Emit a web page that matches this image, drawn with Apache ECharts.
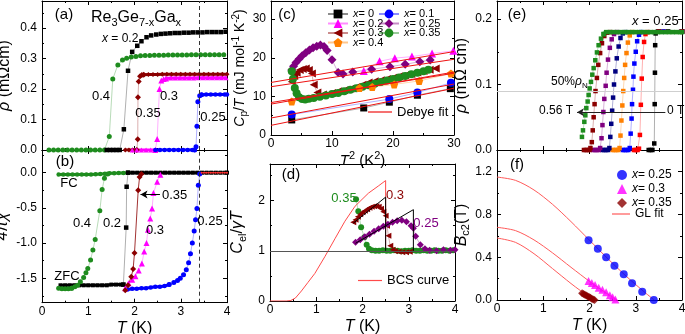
<!DOCTYPE html>
<html>
<head>
<meta charset="utf-8">
<script src="https://cdn.jsdelivr.net/npm/echarts@6/dist/echarts.min.js"></script>
<style>
  html, body { margin: 0; padding: 0; background: #fff; }
  #chart { width: 685px; height: 334px; }
</style>
</head>
<body>
<div id="chart"></div>
<script>
// ---- (a) resistivity, Re3Ge7-xGax ----
const aX02 = [[1.40,0],[1.47,0],[1.54,0],[1.61,0],[1.68,0],[1.77,0.068],[1.86,0.260],[1.95,0.322],[2.06,0.342],[2.15,0.357],[2.26,0.370],[2.36,0.376],[2.47,0.379],[2.57,0.381],[2.67,0.382],[2.77,0.383],[2.87,0.384],[2.97,0.384],[3.07,0.385],[3.17,0.385],[3.27,0.386],[3.37,0.386],[3.47,0.386],[3.57,0.387],[3.67,0.387],[3.77,0.387],[3.87,0.387],[3.97,0.388]];
const aX04 = [[0.15,0],[0.25,0],[0.35,0],[0.45,0],[0.55,0],[0.65,0],[0.75,0],[0.85,0],[0.95,0],[1.05,0],[1.15,0],[1.25,0],[1.35,0],[1.455,0.044],[1.53,0.233],[1.64,0.279],[1.74,0.295],[1.83,0.301],[1.93,0.305],[2.03,0.307],[2.13,0.309],[2.23,0.310],[2.33,0.310],[2.43,0.311],[2.53,0.311],[2.63,0.311],[2.73,0.312],[2.83,0.312],[2.93,0.312],[3.03,0.312],[3.13,0.312],[3.23,0.313],[3.33,0.313],[3.43,0.313],[3.53,0.313],[3.63,0.313],[3.73,0.313],[3.83,0.313],[3.93,0.313]];
const aX035Zero = [[1.80,0],[1.88,0],[1.96,0],[2.05,0]];
const aX035 = [[2.05,0],[2.07,0.035],[2.075,0.173],[2.09,0.225],[2.12,0.242],[2.16,0.246],[2.20,0.247]];
const aX035Top = [[2.20,0.247],[2.30,0.248],[2.40,0.248],[2.50,0.248],[2.60,0.249],[2.70,0.249],[2.80,0.249],[2.90,0.249],[3.00,0.249],[3.10,0.249],[3.20,0.249],[3.30,0.249],[3.40,0.249],[3.50,0.249],[3.60,0.249],[3.70,0.249],[3.80,0.249],[3.90,0.249],[4.00,0.249]];
const aX03Zero = [[1.95,0],[2.05,0],[2.15,0],[2.25,0],[2.35,0],[2.45,0]];
const aX03 = [[2.45,0],[2.49,0.036],[2.54,0.200],[2.58,0.228],[2.63,0.233],[2.68,0.235]];
const aX03Top = [[2.68,0.235],[2.78,0.236],[2.88,0.236],[2.98,0.236],[3.08,0.236],[3.18,0.236],[3.28,0.236],[3.38,0.237],[3.48,0.237],[3.58,0.237],[3.68,0.237],[3.78,0.237],[3.88,0.237],[3.98,0.237]];
const aX025Zero = [[2.45,0],[2.55,0],[2.65,0],[2.75,0],[2.85,0],[2.95,0],[3.05,0],[3.15,0],[3.25,0],[3.30,0]];
const aX025 = [[3.30,0],[3.33,0.011],[3.35,0.078],[3.37,0.158],[3.41,0.178],[3.45,0.181]];
const aX025Top = [[3.45,0.181],[3.55,0.182],[3.65,0.182],[3.75,0.182],[3.85,0.182],[3.95,0.182],[4.00,0.182]];

// ---- (b) susceptibility 4πχ ----
const bX04Low = [[0.36,-1.64],[0.43,-1.65],[0.50,-1.65],[0.57,-1.65],[0.64,-1.64]];
const bX04 = [[0.64,-1.64],[0.71,-1.62],[0.77,-1.60],[0.83,-1.55],[0.90,-1.49],[0.95,-1.42],[0.99,-1.36],[1.05,-1.24],[1.10,-1.10],[1.15,-0.95],[1.25,-0.54],[1.30,-0.24],[1.35,-0.08],[1.42,-0.02]];
const bX04Fc = [[0.36,-0.025],[0.46,-0.025],[0.56,-0.025],[0.66,-0.025],[0.76,-0.025],[0.86,-0.025],[0.96,-0.025],[1.06,-0.025],[1.16,-0.022],[1.26,-0.02],[1.36,-0.015],[1.46,-0.01],[1.56,-0.008],[1.66,-0.005],[1.76,-0.003],[1.86,0]];
const bX02Low = [[0.40,-1.60],[0.50,-1.60],[0.60,-1.60],[0.70,-1.60],[0.80,-1.60],[0.90,-1.60],[1.00,-1.60],[1.10,-1.60],[1.20,-1.60],[1.30,-1.60],[1.40,-1.60],[1.50,-1.59],[1.60,-1.59],[1.70,-1.59],[1.76,-1.59]];
const bX02 = [[1.76,-1.59],[1.82,-0.78],[1.83,-0.20],[1.86,0]];
const bX02Fc = [[1.86,0],[1.96,0],[2.06,0],[2.16,0],[2.26,0],[2.36,0],[2.46,0],[2.56,0],[2.66,0],[2.76,0],[2.86,0],[2.96,0],[3.06,0],[3.16,0],[3.26,0],[3.36,0],[3.46,0],[3.56,0],[3.66,0],[3.76,0],[3.86,0],[3.96,0],[4.00,0]];
const bX035 = [[1.80,-1.67],[1.86,-1.60],[1.93,-1.48],[1.97,-1.37],[2.00,-1.14],[2.08,-0.25],[2.11,-0.06],[2.15,-0.02]];
const bX03 = [[1.80,-1.64],[1.87,-1.57],[1.95,-1.52],[2.02,-1.47],[2.09,-1.39],[2.16,-1.29],[2.21,-1.12],[2.26,-1.00],[2.29,-0.81],[2.34,-0.65],[2.38,-0.51],[2.41,-0.29],[2.49,-0.13],[2.56,-0.03]];
const bX03Fc = [[3.45,0],[3.50,0],[3.55,0],[3.60,0],[3.65,0],[3.70,0],[3.75,0],[3.80,0],[3.85,0],[3.90,0],[3.95,0],[4.00,0]];
const bX025Low = [[1.85,-1.66],[1.95,-1.65],[2.05,-1.65],[2.15,-1.64],[2.25,-1.64],[2.35,-1.63],[2.45,-1.62],[2.55,-1.62],[2.65,-1.61],[2.75,-1.59]];
const bX025 = [[2.75,-1.59],[2.85,-1.56],[2.93,-1.53],[2.99,-1.50],[3.06,-1.45],[3.12,-1.38],[3.17,-1.28],[3.21,-1.15],[3.25,-1.00],[3.29,-0.83],[3.32,-0.67],[3.35,-0.51],[3.38,-0.18],[3.41,-0.02]];
const tcLine = 3.4;
const arrowChi = -0.31;

// ---- (c) Cp/T vs T^2 ----
const cX0 = [[3.4,3.9],[15.2,7.0],[19.4,8.5],[24.0,10.3],[29.4,12.0]];
const cX01 = [[3.4,5.3],[19.4,9.3],[24.0,11.0],[29.5,13.5]];
const cX02 = [[15.2,16.6],[17.8,19.1],[20.3,19.9],[23.1,20.3],[26.4,21.1],[29.9,21.8]];
const cX025 = [[3.4,16.8],[3.7,17.8],[4.1,18.8],[4.6,19.7],[5.1,20.5],[5.7,21.3],[6.3,22.0],[6.9,22.6],[7.5,23.0],[8.1,23.3],[8.7,22.9],[9.2,21.9],[10.0,19.5],[11.0,16.2],[11.8,15.8],[13.4,16.3],[16.5,17.0],[19.5,17.7],[22.0,18.3],[24.4,19.0],[26.1,19.4]];
const cX03 = [[3.4,13.8],[3.8,15.3],[4.2,16.1],[4.7,16.8],[5.2,17.1],[5.7,17.2],[6.2,16.8],[6.7,15.9],[7.0,13.0],[7.6,11.0],[8.5,10.5],[10,10.9],[11,11.3],[12,11.6],[13,12.0],[14,12.4],[15,13.0],[16,13.6],[17,13.9],[18,14.2],[19,14.5],[20,14.8],[21,15.2],[22,15.5],[23,15.8],[24,16.2],[25,16.6],[26,16.9],[27,17.2]];
const cX035 = [[3.4,16.5],[3.6,14.5],[3.9,12.2],[4.2,10.8],[4.6,9.8],[5.1,9.3],[5.6,9.2],[6.2,9.4],[7.0,9.6],[8.0,9.9],[9.0,10.2],[10.0,10.6],[11.0,10.9],[12.0,11.3],[13.0,11.7],[14.0,12.1],[15.0,12.5],[16.0,12.9],[17.0,13.3],[18.0,13.7],[19.0,14.1],[20.0,14.5],[21.0,14.9],[22.0,15.3],[23.0,15.7],[24.0,16.1],[25.0,16.5],[25.8,16.9]];
const cX04 = [[3.4,8.7],[14.5,12.2],[16.6,12.4],[20.2,13.1],[24.3,14.0],[29.5,15.9]];
const debyeFits = [
  [[0,2.5],[30,12.1]],
  [[0,4.4],[30,13.2]],
  [[0,8.0],[30,16.3]],
  [[0,8.4],[30,16.0]],
  [[0,12.5],[30,19.6]],
  [[0,13.6],[30,21.6]]
];

// ---- (d) Cel/γT vs T ----
const dX035 = [[1.86,2.03],[1.91,1.79],[1.97,1.47],[2.04,1.27],[2.09,1.12],[2.14,1.04],[2.20,1.01],[2.28,1.00],[2.36,1.00],[2.44,1.01],[2.52,1.00],[2.60,1.00],[2.68,1.01],[2.76,1.00],[2.84,0.99],[2.92,1.00],[3.00,1.00],[3.08,1.01],[3.16,1.00],[3.24,1.00],[3.32,1.01],[3.40,1.00],[3.48,1.00],[3.56,1.01],[3.64,1.00],[3.72,1.00],[3.80,1.01],[3.88,1.00],[3.96,1.01]];
const dX03 = [[1.80,1.57],[1.85,1.62],[1.90,1.68],[1.95,1.73],[2.00,1.77],[2.05,1.80],[2.10,1.83],[2.15,1.86],[2.20,1.88],[2.25,1.89],[2.30,1.89],[2.35,1.88],[2.40,1.84],[2.45,1.78],[2.50,1.70],[2.53,1.50],[2.56,1.30],[2.60,1.10],[2.65,1.02],[2.70,0.99],[2.78,0.98],[2.86,0.97],[2.94,0.97],[3.02,0.98]];
const dX025 = [[1.85,1.17],[1.95,1.22],[2.05,1.28],[2.15,1.33],[2.25,1.39],[2.35,1.44],[2.45,1.49],[2.55,1.53],[2.65,1.57],[2.75,1.60],[2.85,1.61],[2.95,1.58],[3.05,1.50],[3.10,1.45],[3.15,1.29],[3.25,1.12],[3.35,1.04],[3.45,1.01],[3.60,1.00],[3.75,1.02],[3.90,1.01],[4.00,1.02]];
const bcsCurve = [[0,0],[0.35,0],[0.45,0.01],[0.55,0.06],[0.68,0.20],[0.82,0.37],[0.97,0.55],[1.19,0.89],[1.41,1.25],[1.62,1.59],[1.84,1.89],[2.13,2.15],[2.34,2.29],[2.50,2.40],[2.50,1.00]];
const entropyX03 = [[1.80,1.55],[2.50,2.07],[2.50,1.00]];
const entropyX025 = [[1.85,1.15],[3.10,1.82],[3.10,1.00]];

// ---- (e) rho(T) of x = 0.25 in fields 0 ... 0.56 T ----
const eF0 = [[3.28,0],[3.32,0],[3.36,0],[3.40,0.010],[3.41,0.070],[3.415,0.118],[3.42,0.160],[3.43,0.178],[3.48,0.181],[3.70,0.181],[4.00,0.181]];
const eF1 = [[2.96,0],[3.00,0],[3.04,0],[3.07,0.002],[3.09,0.023],[3.11,0.069],[3.13,0.109],[3.15,0.142],[3.18,0.165],[3.21,0.177],[3.26,0.180],[3.60,0.181],[4.00,0.181]];
const eF2 = [[2.72,0],[2.76,0],[2.80,0],[2.84,0],[2.87,0.003],[2.89,0.025],[2.91,0.048],[2.92,0.070],[2.94,0.092],[2.95,0.112],[2.97,0.132],[3.00,0.150],[3.03,0.166],[3.07,0.176],[3.12,0.180],[3.60,0.181],[4.00,0.181]];
const eF3 = [[2.50,0],[2.54,0],[2.58,0],[2.62,0],[2.65,0.003],[2.67,0.022],[2.69,0.045],[2.71,0.068],[2.73,0.090],[2.75,0.110],[2.77,0.130],[2.80,0.148],[2.83,0.164],[2.87,0.175],[2.92,0.180],[3.50,0.181],[4.00,0.181]];
const eF4 = [[2.28,0],[2.32,0],[2.36,0],[2.40,0],[2.43,0.003],[2.45,0.020],[2.47,0.040],[2.49,0.060],[2.51,0.080],[2.53,0.100],[2.56,0.120],[2.59,0.140],[2.63,0.158],[2.67,0.171],[2.72,0.178],[2.78,0.180],[3.50,0.181],[4.00,0.181]];
const eF5 = [[2.08,0],[2.12,0],[2.16,0],[2.20,0],[2.23,0.003],[2.26,0.018],[2.28,0.038],[2.30,0.058],[2.32,0.078],[2.35,0.098],[2.37,0.118],[2.40,0.138],[2.44,0.156],[2.48,0.169],[2.53,0.177],[2.59,0.180],[3.50,0.181],[4.00,0.181]];
const eF6 = [[1.88,0],[1.92,0],[1.96,0],[2.00,0],[2.02,0.003],[2.05,0.012],[2.07,0.030],[2.09,0.050],[2.11,0.070],[2.13,0.090],[2.16,0.110],[2.19,0.130],[2.23,0.148],[2.27,0.163],[2.32,0.174],[2.38,0.179],[2.45,0.180],[3.50,0.181],[4.00,0.181]];
const eF7 = [[1.837,0.020],[1.859,0.030],[1.888,0.043],[1.910,0.053],[1.931,0.064],[1.960,0.074],[1.981,0.084],[2.003,0.094],[2.032,0.104],[2.061,0.115],[2.090,0.125],[2.125,0.137],[2.161,0.149],[2.197,0.160],[2.248,0.170],[2.306,0.177]];
const eF7Top = [[2.306,0.177],[2.36,0.180],[2.44,0.180],[2.52,0.180],[2.60,0.180],[2.68,0.180],[2.76,0.180],[2.84,0.180],[2.92,0.180],[3.00,0.180],[3.08,0.180],[3.16,0.180],[3.24,0.180],[3.32,0.180],[3.40,0.180],[3.48,0.180],[3.56,0.180],[3.64,0.180],[3.72,0.180],[3.80,0.180],[3.88,0.180],[3.96,0.180],[4.00,0.180]];
const halfRho = 0.09;
const arrowRho = 0.0576;
const arrowFrom = 3.64, arrowTo = 1.73;

// ---- (f) Bc2(T) ----
const fX025 = [[1.98,0.56],[2.18,0.48],[2.36,0.40],[2.54,0.32],[2.74,0.24],[2.92,0.156],[3.14,0.078],[3.39,0.0]];
const fX03 = [[1.98,0.178],[2.05,0.158],[2.12,0.140],[2.20,0.115],[2.28,0.095],[2.36,0.072],[2.44,0.045],[2.50,0.025],[2.56,0.005]];
const fX035 = [[1.84,0.062],[1.87,0.055],[1.90,0.048],[1.93,0.042],[1.96,0.035],[1.99,0.028],[2.02,0.020],[2.05,0.012],[2.08,0.005],[2.11,0.0]];
const glX025 = [[0,1.15],[0.4,1.119],[0.8,1.029],[1.2,0.895],[1.6,0.733],[2.0,0.559],[2.4,0.385],[2.8,0.220],[3.2,0.070],[3.4,0]];
const glX03 = [[0,0.68],[0.4,0.649],[0.8,0.562],[1.2,0.441],[1.6,0.306],[2.0,0.174],[2.2,0.113],[2.4,0.054],[2.6,0]];
const glX035 = [[0,0.58],[0.4,0.539],[0.8,0.433],[1.2,0.294],[1.6,0.154],[1.8,0.089],[2.0,0.028],[2.1,0]];

const FONT = '"Liberation Sans", Arial, Helvetica, sans-serif';
const INK = '#000';
const COL = {
  black: '#000000', green: '#1e8c1e', maroon: '#8b0000', magenta: '#ff00ff',
  blue: '#0000ff', purple: '#800080', orange: '#ff8000', navy: '#000080', red: '#ff0000'
};
const PENTAGON = 'path://M0,-10L9.51,-3.09L5.88,8.09L-5.88,8.09L-9.51,-3.09Z';

function richSet(fs, color) {
  const c = color || INK;
  const base = { fontFamily: FONT, color: c, fill: c };
  return {
    n: Object.assign({ fontSize: fs, lineHeight: fs + 4 }, base),
    i: Object.assign({ fontSize: fs, lineHeight: fs + 4, fontStyle: 'italic' }, base),
    sub: Object.assign({ fontSize: Math.round(fs * 0.7), lineHeight: Math.max(4, fs * 0.35), verticalAlign: 'bottom' }, base),
    sup: Object.assign({ fontSize: Math.round(fs * 0.7), lineHeight: fs * 0.8, verticalAlign: 'top' }, base)
  };
}

const grids = [
  { left: 42, top: 1, width: 185, height: 149 },
  { left: 42, top: 150, width: 185, height: 152.7 },
  { left: 271, top: 1, width: 183, height: 134 },
  { left: 270, top: 164, width: 185, height: 137 },
  { left: 497, top: 1, width: 185, height: 149 },
  { left: 497, top: 150, width: 185, height: 150 }
].map(g => Object.assign({ outerBoundsMode: 'none', containLabel: false }, g));

function axisPair(dim, g, o) {
  const pos = dim === 'x' ? ['bottom', 'top'] : ['left', 'right'];
  const common = {
    type: 'value', gridIndex: g, min: o.min, max: o.max,
    axisLine: { show: true, onZero: false, lineStyle: { color: INK, width: 1 } },
    axisTick: { show: true, inside: true, length: 4, lineStyle: { color: INK, width: 1 } },
    minorTick: { show: true, splitNumber: 2, length: 2, lineStyle: { color: INK, width: 1 } },
    splitLine: { show: false }, minorSplitLine: { show: false }
  };
  if (o.interval != null) common.interval = o.interval;
  if (o.splitNumber != null) common.splitNumber = o.splitNumber;
  const fs = o.nameSize || 16;
  const main = Object.assign({}, common, {
    position: pos[0],
    axisLabel: {
      show: !!o.labels, fontSize: 12, fontFamily: FONT, color: INK,
      margin: dim === 'x' ? 3 : 5, formatter: o.fmt || (v => String(v)),
      showMinLabel: o.hideMin ? false : null, showMaxLabel: o.hideMax ? false : null
    },
    name: o.name || '', nameLocation: 'middle', nameGap: o.gap || 10,
    nameTextStyle: { fontSize: fs, fontFamily: FONT, color: INK, lineHeight: fs + 4, rich: richSet(fs) }
  });
  const mirror = Object.assign({}, common, { position: pos[1], axisLabel: { show: false } });
  return [main, mirror];
}

const fix1 = v => v.toFixed(1);
const xAxes = [].concat(
  axisPair('x', 0, { min: 0, max: 4, interval: 1 }),
  axisPair('x', 1, { min: 0, max: 4, interval: 1, labels: true, name: '{i|T} (K)', gap: 10 }),
  axisPair('x', 2, { min: 0, max: 30, interval: 10, labels: true, name: '{i|T}{sup|2} (K{sup|2})', gap: 10, nameSize: 15 }),
  axisPair('x', 3, { min: 0, max: 4, interval: 1, labels: true, name: '{i|T} (K)', gap: 10 }),
  axisPair('x', 4, { min: 0, max: 4, interval: 1 }),
  axisPair('x', 5, { min: 0, max: 4, interval: 1, labels: true, name: '{i|T} (K)', gap: 11 })
);
const yAxes = [].concat(
  axisPair('y', 0, { min: 0, max: 0.489, interval: 0.1, labels: true, fmt: fix1, hideMax: true, name: '{i|ρ} (mΩcm)', gap: 27 }),
  axisPair('y', 1, { min: -1.847, max: 0.322, splitNumber: 5, labels: true, fmt: fix1, hideMin: true, hideMax: true, name: '{i|4πχ}', gap: 27 }),
  axisPair('y', 2, { min: 0, max: 34.7, interval: 10, labels: true, hideMax: true, name: '{i|C}{sub|p}/{i|T} (mJ mol{sup|-1} K{sup|-2})', gap: 17, nameSize: 14 }),
  axisPair('y', 3, { min: 0, max: 2.73, interval: 1, labels: true, hideMax: true, name: '{i|C}{sub|el}/{i|γT}', gap: 22 }),
  axisPair('y', 4, { min: 0, max: 0.2275, interval: 0.1, labels: true, fmt: fix1, hideMax: true, name: '{i|ρ} (mΩ cm)', gap: 23 }),
  axisPair('y', 5, { min: 0, max: 1.403, interval: 0.4, labels: true, fmt: fix1, hideMax: true, name: '{i|B}{sub|c2}(T)', gap: 22 })
);

function ser(g, name, data, o) {
  const s = {
    type: o.type || 'line', name: name, xAxisIndex: 2 * g, yAxisIndex: 2 * g, data: data,
    symbol: o.symbol || 'none', symbolSize: o.size || 5, symbolRotate: o.rotate || 0,
    showSymbol: !!o.symbol, showAllSymbol: true, smooth: o.smooth || false,
    itemStyle: { color: o.color },
    lineStyle: { color: o.color, width: o.width == null ? 0.7 : o.width, opacity: o.opacity == null ? 0.45 : o.opacity, type: o.dash || 'solid' },
    emphasis: { disabled: true }, silent: true, animation: false, z: o.z || 2
  };
  if (o.markLine) s.markLine = Object.assign({ silent: true, animation: false, label: { show: false }, symbol: 'none' }, o.markLine);
  return s;
}
const dense = (c, sym, size, extra) => Object.assign({ color: c, symbol: sym, size: size, width: 3, opacity: 1 }, extra || {});

const series = [
  // (a)
  ser(0, '', aX04, { color: COL.green, symbol: 'circle', size: 5 }),
  ser(0, '', aX02, { color: COL.black, symbol: 'rect', size: 4.5 }),
  ser(0, '', aX035Zero, dense(COL.maroon, 'diamond', 5)),
  ser(0, '', aX035, { color: COL.maroon, symbol: 'diamond', size: 6 }),
  ser(0, '', aX035Top, dense(COL.maroon, 'diamond', 5)),
  ser(0, '', aX03Zero, dense(COL.magenta, 'triangle', 5)),
  ser(0, '', aX03, { color: COL.magenta, symbol: 'triangle', size: 6 }),
  ser(0, '', aX03Top, dense(COL.magenta, 'triangle', 5)),
  ser(0, '', aX025Zero, dense(COL.blue, 'circle', 4.5)),
  ser(0, '', aX025, { color: COL.blue, symbol: 'circle', size: 5,
    markLine: { lineStyle: { color: '#333', width: 1, type: [4, 3] }, data: [{ xAxis: tcLine }] } }),
  ser(0, '', aX025Top, dense(COL.blue, 'circle', 4.5)),
  // (b)
  ser(1, '', bX02Fc, dense(COL.black, 'rect', 4)),
  ser(1, '', bX03Fc, { color: '#ff3030', symbol: 'circle', size: 2, width: 1, opacity: 0.8, z: 4 }),
  ser(1, '', bX04Fc, dense(COL.green, 'circle', 4.5)),
  ser(1, '', bX02Low, dense(COL.black, 'rect', 4)),
  ser(1, '', bX02, { color: COL.black, symbol: 'rect', size: 4.5 }),
  ser(1, '', bX04Low, dense(COL.green, 'circle', 5)),
  ser(1, '', bX04, { color: COL.green, symbol: 'circle', size: 5 }),
  ser(1, '', bX025Low, dense(COL.blue, 'circle', 4.5)),
  ser(1, '', bX025, { color: COL.blue, symbol: 'circle', size: 5,
    markLine: { lineStyle: { color: '#333', width: 1, type: [4, 3] }, data: [{ xAxis: tcLine }] } }),
  ser(1, '', bX03, { color: COL.magenta, symbol: 'triangle', size: 6 }),
  ser(1, '', bX035, { color: COL.maroon, symbol: 'diamond', size: 6, width: 1, opacity: 0.8,
    markLine: { symbol: ['none', 'arrow'], symbolSize: [6, 7], lineStyle: { color: INK, width: 1, type: 'solid' },
      data: [[{ coord: [2.55, arrowChi] }, { coord: [2.13, arrowChi] }]] } }),
  // (c)
  ...debyeFits.map((d, k) => ser(2, k === 0 ? 'Debye fit' : '', d, { color: '#ee1111', width: 1, opacity: 1, z: 3 })),
  ser(2, 'c:0', cX0, { color: COL.black, symbol: 'rect', size: 7 }),
  ser(2, 'c:0.1', cX01, { color: COL.blue, symbol: 'circle', size: 8 }),
  ser(2, 'c:0.2', cX02, { color: COL.magenta, symbol: 'triangle', size: 8 }),
  ser(2, 'c:0.25', cX025, { color: COL.purple, symbol: 'diamond', size: 9 }),
  ser(2, 'c:0.3', cX03, { color: COL.maroon, symbol: 'triangle', size: 8, rotate: 90 }),
  ser(2, 'c:0.35', cX035, { color: COL.green, symbol: 'circle', size: 8 }),
  ser(2, 'c:0.4', cX04, { color: COL.orange, symbol: PENTAGON, size: 8 }),
  // (d)
  ser(3, 'BCS curve', bcsCurve, { color: '#ff4a4a', width: 1, opacity: 1,
    markLine: { lineStyle: { color: '#555', width: 1, type: 'solid' }, data: [{ yAxis: 1 }] } }),
  ser(3, '', dX035, { color: COL.green, symbol: 'circle', size: 6 }),
  ser(3, '', dX03, { color: COL.maroon, symbol: 'triangle', size: 6, rotate: 90 }),
  ser(3, '', dX025, { color: COL.purple, symbol: 'diamond', size: 7 }),
  ser(3, '', entropyX03, { color: INK, width: 1, opacity: 1, z: 5 }),
  ser(3, '', entropyX025, { color: INK, width: 1, opacity: 1, z: 5 }),
  // (e)
  ser(4, '', eF0, { color: COL.black, symbol: 'rect', size: 4.5,
    markLine: { lineStyle: { color: '#cfcfcf', width: 1, type: 'solid' }, data: [{ yAxis: halfRho }] } }),
  ser(4, '', eF1, { color: COL.red, symbol: 'rect', size: 4.5 }),
  ser(4, '', eF2, { color: COL.blue, symbol: 'rect', size: 4.5 }),
  ser(4, '', eF3, { color: COL.orange, symbol: 'rect', size: 4.5 }),
  ser(4, '', eF4, { color: COL.navy, symbol: 'rect', size: 4.5 }),
  ser(4, '', eF5, { color: COL.purple, symbol: 'rect', size: 4.5 }),
  ser(4, '', eF6, { color: COL.maroon, symbol: 'rect', size: 4.5 }),
  ser(4, '', eF7, { color: COL.green, symbol: 'rect', size: 4.5,
    markLine: { symbol: ['none', 'arrow'], symbolSize: [6, 7], lineStyle: { color: '#222', width: 1, type: 'solid' },
      data: [[{ coord: [arrowFrom, arrowRho] }, { coord: [arrowTo, arrowRho] }]] } }),
  ser(4, '', eF7Top, dense(COL.green, 'rect', 4.5, { width: 4 })),
  // (f)
  ser(5, 'GL fit', glX025, { color: '#ff5a5a', width: 1, opacity: 1, smooth: 0.3 }),
  ser(5, '', glX03, { color: '#ff5a5a', width: 1, opacity: 1, smooth: 0.3 }),
  ser(5, '', glX035, { color: '#ff5a5a', width: 1, opacity: 1, smooth: 0.3 }),
  ser(5, 'f:0.25', fX025, { type: 'scatter', color: COL.blue, symbol: 'circle', size: 8, z: 4 }),
  ser(5, 'f:0.3', fX03, { type: 'scatter', color: COL.magenta, symbol: 'triangle', size: 8, z: 4 }),
  ser(5, 'f:0.35', fX035, { type: 'scatter', color: COL.maroon, symbol: 'diamond', size: 8, z: 4 })
];

const xName = n => '{i|x}= ' + n.split(':')[1];
function legendBox(names, left, top, o) {
  const fs = o.fs || 11;
  const box = {
    data: names, left: left, top: top, orient: 'vertical', padding: 0,
    itemWidth: o.w || 20, itemHeight: o.h || 10, itemGap: o.gap == null ? 0 : o.gap,
    selectedMode: false, inactiveColor: '#000',
    textStyle: { fontSize: fs, fontFamily: FONT, color: INK, lineHeight: o.lh || 10, rich: { i: { fontStyle: 'italic', fontSize: fs, fontFamily: FONT, color: INK, lineHeight: o.lh || 10 } } }
  };
  if (o.fmt) box.formatter = o.fmt;
  if (o.icon) box.icon = o.icon;
  return box;
}
const legends = [
  legendBox(['c:0', 'c:0.2', 'c:0.3', 'c:0.4'], 327, 8.5, { h: 11, gap: -1.5, lh: 9, fmt: xName }),
  legendBox(['c:0.1', 'c:0.25', 'c:0.35'], 378, 8.5, { h: 11, gap: -1.5, lh: 9, fmt: xName }),
  legendBox(['Debye fit'], 368, 105.5, { w: 24, h: 1.2, lh: 10, fs: 13, icon: 'rect' }),
  legendBox(['BCS curve'], 358, 274, { w: 24, h: 1.2, lh: 10, fs: 13, icon: 'rect' }),
  legendBox(['f:0.25', 'f:0.3', 'f:0.35'], 617, 169, { w: 10, h: 10, gap: 2, lh: 10, fs: 12, fmt: xName }),
  legendBox(['GL fit'], 612, 208, { w: 18, h: 1.2, lh: 10, fs: 12, icon: 'rect' })
];

function label(x, y, text, o) {
  o = o || {};
  const fs = o.fs || 13;
  const c = o.color || INK;
  return {
    type: 'text', x: x, y: y, silent: true, z: 100,
    style: { text: text, fontSize: fs, fontFamily: FONT, fill: c, align: o.align || 'center', verticalAlign: 'middle', rich: richSet(fs, c) }
  };
}
const texts = [
  label(64, 15, '(a)', { fs: 15 }),
  label(91, 18, '{n|Re}{sub|3}{n|Ge}{sub|7-x}{n|Ga}{sub|x}', { fs: 16, align: 'left' }),
  label(102, 39, '{i|x} = 0.2', { fs: 12, align: 'left' }),
  label(101, 96, '0.4'), label(148, 113, '0.35'), label(169, 96, '0.3'), label(213, 117, '0.25'),
  label(65, 162, '(b)', { fs: 15 }),
  label(69, 183, 'FC'), label(67, 276, 'ZFC'),
  label(82, 223, '0.4'), label(112, 223, '0.2'), label(162, 195, '0.35', { align: 'left' }),
  label(155, 230, '0.3'), label(210, 221, '0.25'),
  label(287, 15, '(c)', { fs: 15 }),
  label(291, 175, '(d)', { fs: 15 }),
  label(344, 198, '0.35', { color: COL.green }),
  label(395, 195, '0.3', { color: COL.maroon }),
  label(426, 223, '0.25', { color: COL.purple }),
  label(517, 15, '(e)', { fs: 15 }),
  label(632, 21, '{i|x} = 0.25', { align: 'left' }),
  label(551, 82, '50%{i|ρ}{sub|N}', { fs: 12, align: 'left' }),
  label(573, 111, '0.56 T', { fs: 12, align: 'right' }),
  label(667, 111, '0 T', { fs: 12, align: 'left' }),
  label(517, 165, '(f)', { fs: 15 })
];

const chart = echarts.init(document.getElementById('chart'), null, { renderer: 'canvas' });
chart.setOption({
  animation: false,
  backgroundColor: '#fff',
  textStyle: { fontFamily: FONT },
  grid: grids,
  xAxis: xAxes,
  yAxis: yAxes,
  legend: legends,
  series: series,
  graphic: texts
});
</script>
</body>
</html>
